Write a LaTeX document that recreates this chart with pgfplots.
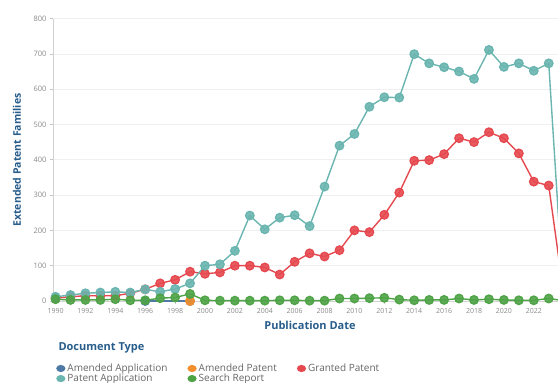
\documentclass[border=0pt]{standalone}
\usepackage{fontspec}
\setmainfont{Open Sans}
\usepackage{pgfplots}
\pgfplotsset{compat=1.18}

\definecolor{cblue}{HTML}{4E79A7}
\definecolor{corange}{HTML}{F28E2B}
\definecolor{cred}{HTML}{E5494F}
\definecolor{cteal}{HTML}{6AB5B0}
\definecolor{cgreen}{HTML}{4FA347}
\definecolor{ctitle}{HTML}{275D8B}
\definecolor{ctick}{HTML}{8A8A8A}

\begin{document}
\begin{tikzpicture}
\useasboundingbox (0pt,0pt) rectangle (558pt,383pt);
\clip (0pt,0pt) rectangle (558pt,383pt);
\begin{axis}[
  at={(53pt,82pt)}, anchor=south west,
  scale only axis, width=505pt, height=282.5pt,
  xmin=1989.83, xmax=2023.62, ymin=0, ymax=800,
  clip=false,
  axis x line*=bottom, axis y line*=left,
  axis line style={gray!35, line width=0.6pt},
  xtick={1990,1992,...,2022},
  ytick={0,100,...,800},
  ymajorgrids, grid style={gray!12, line width=0.6pt},
  tick align=outside, major tick length=3pt,
  tick style={gray!45, line width=0.6pt},
  /pgf/number format/1000 sep={},
  /pgf/number format/assume math mode=true,
  x tick label style={font=\fontsize{7}{8}\selectfont, text=ctick, yshift=-1pt},
  y tick label style={font=\fontsize{7.5}{8}\selectfont, text=ctick},
  every axis plot/.append style={line width=1.4pt, mark=*, mark size=4.2pt,
    mark options={solid, draw=none, fill opacity=0.9}},
  legend columns=3,
  legend cell align=left,
  legend image code/.code={\fill[#1, draw=none] (3pt,0pt) ellipse (4.6pt and 3.6pt);},
  legend style={at={(0.006,-0.215)}, anchor=north west, draw=none, fill=none,
    inner sep=0pt, font=\fontsize{10}{10}\selectfont\color{gray!80!black},
    row sep=-3pt,
    /tikz/every even column/.append style={column sep=18pt}},
]
\addplot[cblue] coordinates {(1996,0) (1999,0)};
\addlegendentry{Amended Application}
\addplot[corange] coordinates {(1999,0)};
\addlegendentry{Amended Patent}
\addplot[cred] coordinates {
 (1990,8) (1991,12) (1992,15) (1993,15) (1994,15) (1995,22) (1996,33)
 (1997,50) (1998,60) (1999,83) (2000,77) (2001,81) (2002,100) (2003,100)
 (2004,95) (2005,75) (2006,111) (2007,135) (2008,126) (2009,144) (2010,200)
 (2011,195) (2012,244) (2013,307) (2014,397) (2015,399) (2016,416) (2017,461)
 (2018,450) (2019,478) (2020,461) (2021,418) (2022,338) (2023,327) (2024,20)};
\addlegendentry{Granted Patent}
\addplot[cteal] coordinates {
 (1990,12) (1991,17) (1992,22) (1993,24) (1994,26) (1995,24) (1996,33)
 (1997,26) (1998,34) (1999,50) (2000,100) (2001,104) (2002,142) (2003,242)
 (2004,203) (2005,236) (2006,243) (2007,212) (2008,324) (2009,440) (2010,473)
 (2011,550) (2012,577) (2013,576) (2014,699) (2015,673) (2016,662) (2017,650)
 (2018,629) (2019,711) (2020,663) (2021,673) (2022,652) (2023,673) (2024,5)};
\addlegendentry{Patent Application}
\addplot[cgreen] coordinates {
 (1990,5) (1991,3) (1992,3) (1993,3) (1994,5) (1995,2) (1996,2)
 (1997,8) (1998,10) (1999,20) (2000,2) (2001,1) (2002,1) (2003,1)
 (2004,1) (2005,2) (2006,2) (2007,1) (2008,1) (2009,7) (2010,7)
 (2011,8) (2012,9) (2013,4) (2014,2) (2015,3) (2016,3) (2017,7)
 (2018,3) (2019,5) (2020,3) (2021,2) (2022,2) (2023,7) (2024,1)};
\addlegendentry{Search Report}
\end{axis}
\node[rotate=90, font=\bfseries\fontsize{10.5}{11}\selectfont, text=ctitle] at (17pt,223pt) {Extended Patent Families};
\node[font=\bfseries\fontsize{11}{12}\selectfont, text=ctitle] at (310pt,58pt) {Publication Date};
\node[anchor=west, font=\bfseries\fontsize{11}{12}\selectfont, text=ctitle] at (55pt,35pt) {Document Type};
\end{tikzpicture}
\end{document}
